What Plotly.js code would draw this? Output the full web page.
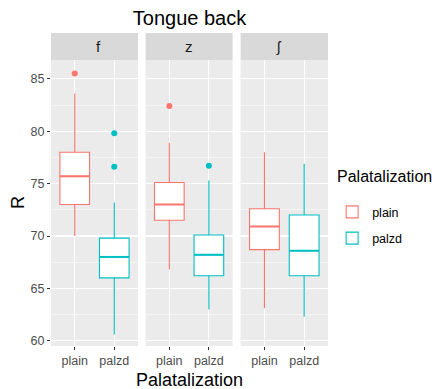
<!DOCTYPE html>
<html>
<head>
<meta charset="utf-8">
<script src="https://cdn.plot.ly/plotly-3.0.1.min.js"></script>
<style>html,body{margin:0;padding:0;background:#fff;}#chart{width:438px;height:389px;}</style>
</head>
<body>
<div id="chart"></div>
<script>
const facets = ['f', 'z', 'ʃ'];
const groups = ['plain', 'palzd'];
const q1Plain = [73.0, 71.5, 68.7];
const medPlain = [75.7, 73.0, 70.9];
const q3Plain = [78.0, 75.1, 72.6];
const lowPlain = [70.0, 66.8, 63.1];
const highPlain = [83.6, 78.9, 78.0];
const outPlain = [[85.5], [82.4], []];
const q1Palzd = [66.0, 66.2, 66.2];
const medPalzd = [68.0, 68.2, 68.6];
const q3Palzd = [69.8, 70.1, 72.0];
const lowPalzd = [60.6, 63.0, 62.3];
const highPalzd = [73.2, 75.3, 76.9];
const outPalzd = [[79.8, 76.6], [76.7], []];

const colors = ['#F8766D', '#00BFC4'];
const stats = [
  {q1: q1Plain, med: medPlain, q3: q3Plain, lo: lowPlain, hi: highPlain, out: outPlain},
  {q1: q1Palzd, med: medPalzd, q3: q3Palzd, lo: lowPalzd, hi: highPalzd, out: outPalzd}
];
const boxW = 0.75;
const domains = [[0, 0.314], [0.3415, 0.6556], [0.6845, 1]];
const font = 'Liberation Sans, Arial, sans-serif';

const traces = [];
facets.forEach((fc, fi) => {
  const xa = fi === 0 ? 'x' : 'x' + (fi + 1);
  groups.forEach((g, gi) => {
    const s = stats[gi];
    traces.push({
      type: 'box', xaxis: xa, yaxis: 'y', name: g, legendgroup: g,
      showlegend: fi === 0,
      x: [gi], q1: [s.q1[fi]], median: [s.med[fi]], q3: [s.q3[fi]],
      lowerfence: [s.lo[fi]], upperfence: [s.hi[fi]],
      width: boxW, whiskerwidth: 0, boxpoints: false,
      fillcolor: '#FFFFFF', line: {color: colors[gi], width: 1.1},
      hoverinfo: 'skip'
    });
    traces.push({
      type: 'scatter', mode: 'lines', xaxis: xa, yaxis: 'y', showlegend: false,
      x: [gi - boxW / 2, gi + boxW / 2], y: [s.med[fi], s.med[fi]],
      line: {color: colors[gi], width: 2}, hoverinfo: 'skip'
    });
    if (s.out[fi].length) {
      traces.push({
        type: 'scatter', mode: 'markers', xaxis: xa, yaxis: 'y', showlegend: false,
        x: s.out[fi].map(() => gi), y: s.out[fi],
        marker: {color: colors[gi], size: 6}, hoverinfo: 'skip'
      });
    }
  });
});

const layout = {
  width: 438, height: 389,
  margin: {l: 51, r: 110, t: 60, b: 43},
  paper_bgcolor: '#FFFFFF', plot_bgcolor: '#EBEBEB',
  font: {family: font, color: '#4D4D4D', size: 12},
  title: {text: 'Tongue back', x: 0.5, xref: 'paper', y: 1 - 18 / 389, yanchor: 'middle',
          font: {size: 20, color: '#000000', family: font}},
  showlegend: true,
  legend: {x: 1.015, xanchor: 'left', y: 0.52, yanchor: 'top',
           font: {size: 12.5, color: '#000000'}, bgcolor: 'rgba(0,0,0,0)', tracegroupgap: 7},
  yaxis: {range: [59.5, 86.8], tick0: 60, dtick: 5, showgrid: true, gridcolor: '#FFFFFF', gridwidth: 1.1,
          minor: {tick0: 62.5, dtick: 5, showgrid: true, gridcolor: '#FFFFFF', gridwidth: 0.5, ticks: ''},
          zeroline: false, ticks: 'outside', ticklen: 3, tickcolor: '#333333',
          tickfont: {size: 12.5, color: '#4D4D4D'}, fixedrange: true},
  shapes: [], annotations: []
};
facets.forEach((fc, fi) => {
  const key = fi === 0 ? 'xaxis' : 'xaxis' + (fi + 1);
  layout[key] = {
    domain: domains[fi], anchor: 'y', range: [-0.6, 1.6],
    tickvals: groups.map((g, i) => i), ticktext: groups,
    showgrid: true, gridcolor: '#FFFFFF', gridwidth: 1.1, zeroline: false,
    ticks: 'outside', ticklen: 3, tickcolor: '#333333',
    tickfont: {size: 12.5, color: '#4D4D4D'}, fixedrange: true
  };
  layout.shapes.push({type: 'rect', xref: 'paper', yref: 'paper',
    x0: domains[fi][0], x1: domains[fi][1], y0: 1, y1: 1 + 27 / 286,
    fillcolor: '#D9D9D9', line: {width: 0}, layer: 'below'});
  layout.annotations.push({text: fc, xref: 'paper', yref: 'paper',
    x: (domains[fi][0] + domains[fi][1]) / 2, y: 1 + 13.5 / 286, yanchor: 'middle',
    showarrow: false, font: {size: 15, color: '#1A1A1A'}});
});
layout.annotations.push({text: 'Palatalization', xref: 'paper', yref: 'paper', x: 0.5, y: -34 / 286,
  yanchor: 'middle', showarrow: false, font: {size: 18, color: '#000000'}});
layout.annotations.push({text: 'R', xref: 'paper', yref: 'paper', x: -33 / 277, y: 0.5,
  xanchor: 'center', yanchor: 'middle', textangle: -90, showarrow: false, font: {size: 18, color: '#000000'}});
layout.annotations.push({text: 'Palatalization', xref: 'paper', yref: 'paper', x: 1.025, y: 170 / 286,
  xanchor: 'left', yanchor: 'middle', showarrow: false, font: {size: 16, color: '#000000'}});

Plotly.newPlot('chart', traces, layout, {displayModeBar: false, staticPlot: true});
</script>
</body>
</html>
